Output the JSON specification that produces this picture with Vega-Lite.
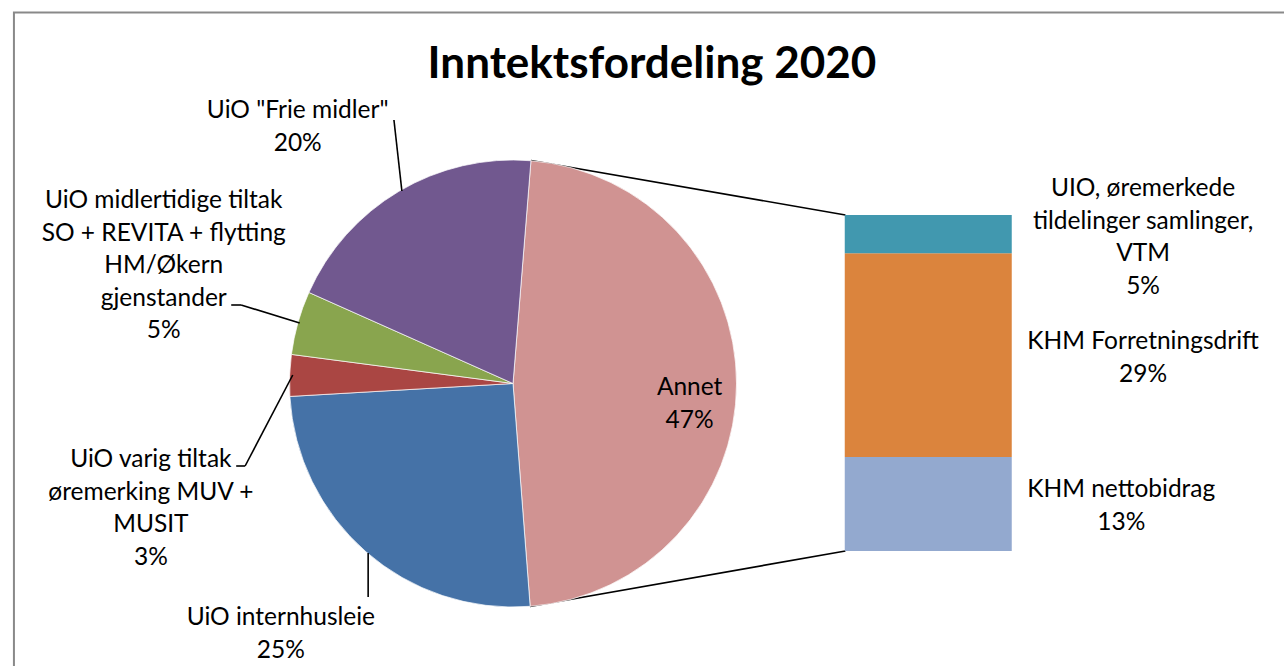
{
  "$schema": "https://vega.github.io/schema/vega-lite/v6.json",
  "width": 1284,
  "height": 666,
  "padding": 0,
  "autosize": {"type": "none"},
  "background": "white",
  "config": {"view": {"stroke": null}, "font": "Lato", "text": {"font": "Lato", "fontSize": 24.5, "color": "#000000", "lineHeight": 32.5, "align": "center", "baseline": "alphabetic"}},
  "datasets": {
    "pie": [
      {"i": 1, "name": "Annet", "value": 47.5, "label": ["Annet", "47%"]},
      {"i": 2, "name": "UiO internhusleie", "value": 25.3, "label": ["UiO internhusleie", "25%"]},
      {"i": 3, "name": "UiO varig tiltak øremerking MUV + MUSIT", "value": 3.0, "label": ["UiO varig tiltak", "øremerking MUV +", "MUSIT", "3%"]},
      {"i": 4, "name": "UiO midlertidige tiltak SO + REVITA + flytting HM/Økern gjenstander", "value": 4.6, "label": ["UiO midlertidige tiltak", "SO + REVITA + flytting", "HM/Økern", "gjenstander", "5%"]},
      {"i": 5, "name": "UiO \"Frie midler\"", "value": 19.6, "label": ["UiO \"Frie midler\"", "20%"]}
    ],
    "bar": [
      {"i": 1, "name": "KHM nettobidrag", "value": 13.3, "label": ["KHM nettobidrag", "13%"]},
      {"i": 2, "name": "KHM Forretningsdrift", "value": 28.8, "label": ["KHM Forretningsdrift", "29%"]},
      {"i": 3, "name": "UIO, øremerkede tildelinger samlinger, VTM", "value": 5.4, "label": ["UIO, øremerkede", "tildelinger samlinger,", "VTM", "5%"]}
    ]
  },
  "resolve": {"scale": {"y": "independent", "color": "independent"}},
  "layer": [
    {
      "data": {"values": [{}]},
      "layer": [
        {
          "mark": {"type": "rect", "fill": null, "stroke": "#898989", "strokeWidth": 2},
          "encoding": {
            "x": {"datum": 9, "type": "quantitative", "scale": {"domain": [0, 1284], "nice": false, "zero": false}, "axis": null},
            "x2": {"datum": 1320},
            "y": {"datum": 12.5, "type": "quantitative", "scale": {"domain": [0, 666], "reverse": true, "nice": false, "zero": false}, "axis": null},
            "y2": {"datum": 720}
          }
        },
        {
          "mark": {"type": "rule", "color": "#000000", "strokeWidth": 1.6},
          "encoding": {
            "x": {"datum": 530, "type": "quantitative", "scale": {"domain": [0, 1284], "nice": false, "zero": false}, "axis": null},
            "x2": {"datum": 847},
            "y": {"datum": 160.5, "type": "quantitative", "scale": {"domain": [0, 666], "reverse": true, "nice": false, "zero": false}, "axis": null},
            "y2": {"datum": 215}
          }
        },
        {
          "mark": {"type": "rule", "color": "#000000", "strokeWidth": 1.6},
          "encoding": {
            "x": {"datum": 529, "type": "quantitative", "scale": {"domain": [0, 1284], "nice": false, "zero": false}, "axis": null},
            "x2": {"datum": 847},
            "y": {"datum": 606.5, "type": "quantitative", "scale": {"domain": [0, 666], "reverse": true, "nice": false, "zero": false}, "axis": null},
            "y2": {"datum": 551}
          }
        },
        {
          "data": {"name": "pie"},
          "mark": {"type": "arc", "outerRadius": 223.5, "stroke": "#ffffff", "strokeWidth": 0.7},
          "encoding": {
            "x": {"datum": 512, "type": "quantitative", "scale": {"domain": [0, 1284], "nice": false, "zero": false}, "axis": null},
            "y": {"datum": 383.5, "type": "quantitative", "scale": {"domain": [0, 666], "reverse": true, "nice": false, "zero": false}, "axis": null},
            "theta": {"field": "value", "type": "quantitative", "stack": true, "scale": {"range": [0.0803, 6.3635]}},
            "order": {"field": "i", "type": "quantitative"},
            "color": {"field": "name", "type": "nominal", "legend": null,
              "scale": {"domain": ["Annet", "UiO internhusleie", "UiO varig tiltak øremerking MUV + MUSIT", "UiO midlertidige tiltak SO + REVITA + flytting HM/Økern gjenstander", "UiO \"Frie midler\""],
                        "range": ["#D09392", "#4572A7", "#AA4643", "#89A54E", "#71588F"]}}
          }
        },
        {
          "mark": {"type": "rule", "color": "#000000", "strokeWidth": 1.6},
          "encoding": {
            "x": {"datum": 392, "type": "quantitative", "scale": {"domain": [0, 1284], "nice": false, "zero": false}, "axis": null},
            "x2": {"datum": 400},
            "y": {"datum": 120, "type": "quantitative", "scale": {"domain": [0, 666], "reverse": true, "nice": false, "zero": false}, "axis": null},
            "y2": {"datum": 191}
          }
        },
        {
          "mark": {"type": "rule", "color": "#000000", "strokeWidth": 1.6},
          "encoding": {
            "x": {"datum": 228, "type": "quantitative", "scale": {"domain": [0, 1284], "nice": false, "zero": false}, "axis": null},
            "x2": {"datum": 238},
            "y": {"datum": 305, "type": "quantitative", "scale": {"domain": [0, 666], "reverse": true, "nice": false, "zero": false}, "axis": null},
            "y2": {"datum": 305}
          }
        },
        {
          "mark": {"type": "rule", "color": "#000000", "strokeWidth": 1.6},
          "encoding": {
            "x": {"datum": 238, "type": "quantitative", "scale": {"domain": [0, 1284], "nice": false, "zero": false}, "axis": null},
            "x2": {"datum": 297},
            "y": {"datum": 305, "type": "quantitative", "scale": {"domain": [0, 666], "reverse": true, "nice": false, "zero": false}, "axis": null},
            "y2": {"datum": 323}
          }
        },
        {
          "mark": {"type": "rule", "color": "#000000", "strokeWidth": 1.6},
          "encoding": {
            "x": {"datum": 233, "type": "quantitative", "scale": {"domain": [0, 1284], "nice": false, "zero": false}, "axis": null},
            "x2": {"datum": 242},
            "y": {"datum": 466, "type": "quantitative", "scale": {"domain": [0, 666], "reverse": true, "nice": false, "zero": false}, "axis": null},
            "y2": {"datum": 466}
          }
        },
        {
          "mark": {"type": "rule", "color": "#000000", "strokeWidth": 1.6},
          "encoding": {
            "x": {"datum": 242, "type": "quantitative", "scale": {"domain": [0, 1284], "nice": false, "zero": false}, "axis": null},
            "x2": {"datum": 290},
            "y": {"datum": 466, "type": "quantitative", "scale": {"domain": [0, 666], "reverse": true, "nice": false, "zero": false}, "axis": null},
            "y2": {"datum": 375}
          }
        },
        {
          "mark": {"type": "rule", "color": "#000000", "strokeWidth": 1.6},
          "encoding": {
            "x": {"datum": 366, "type": "quantitative", "scale": {"domain": [0, 1284], "nice": false, "zero": false}, "axis": null},
            "x2": {"datum": 366},
            "y": {"datum": 553, "type": "quantitative", "scale": {"domain": [0, 666], "reverse": true, "nice": false, "zero": false}, "axis": null},
            "y2": {"datum": 597}
          }
        },
        {
          "mark": {"type": "text", "text": "Inntektsfordeling 2020", "fontSize": 44, "fontWeight": "bold"},
          "encoding": {
            "x": {"datum": 652, "type": "quantitative", "scale": {"domain": [0, 1284], "nice": false, "zero": false}, "axis": null},
            "y": {"datum": 78, "type": "quantitative", "scale": {"domain": [0, 666], "reverse": true, "nice": false, "zero": false}, "axis": null}
          }
        },
        {
          "data": {"name": "pie"},
          "transform": [{"filter": "datum.i == 1"}],
          "mark": {"type": "text"},
          "encoding": {
            "text": {"field": "label"},
            "x": {"datum": 690, "type": "quantitative", "scale": {"domain": [0, 1284], "nice": false, "zero": false}, "axis": null},
            "y": {"datum": 395, "type": "quantitative", "scale": {"domain": [0, 666], "reverse": true, "nice": false, "zero": false}, "axis": null}
          }
        },
        {
          "data": {"name": "pie"},
          "transform": [{"filter": "datum.i == 2"}],
          "mark": {"type": "text"},
          "encoding": {
            "text": {"field": "label"},
            "x": {"datum": 278, "type": "quantitative", "scale": {"domain": [0, 1284], "nice": false, "zero": false}, "axis": null},
            "y": {"datum": 625, "type": "quantitative", "scale": {"domain": [0, 666], "reverse": true, "nice": false, "zero": false}, "axis": null}
          }
        },
        {
          "data": {"name": "pie"},
          "transform": [{"filter": "datum.i == 3"}],
          "mark": {"type": "text"},
          "encoding": {
            "text": {"field": "label"},
            "x": {"datum": 147, "type": "quantitative", "scale": {"domain": [0, 1284], "nice": false, "zero": false}, "axis": null},
            "y": {"datum": 467, "type": "quantitative", "scale": {"domain": [0, 666], "reverse": true, "nice": false, "zero": false}, "axis": null}
          }
        },
        {
          "data": {"name": "pie"},
          "transform": [{"filter": "datum.i == 4"}],
          "mark": {"type": "text"},
          "encoding": {
            "text": {"field": "label"},
            "x": {"datum": 160, "type": "quantitative", "scale": {"domain": [0, 1284], "nice": false, "zero": false}, "axis": null},
            "y": {"datum": 208, "type": "quantitative", "scale": {"domain": [0, 666], "reverse": true, "nice": false, "zero": false}, "axis": null}
          }
        },
        {
          "data": {"name": "pie"},
          "transform": [{"filter": "datum.i == 5"}],
          "mark": {"type": "text"},
          "encoding": {
            "text": {"field": "label"},
            "x": {"datum": 295, "type": "quantitative", "scale": {"domain": [0, 1284], "nice": false, "zero": false}, "axis": null},
            "y": {"datum": 118, "type": "quantitative", "scale": {"domain": [0, 666], "reverse": true, "nice": false, "zero": false}, "axis": null}
          }
        },
        {
          "data": {"name": "bar"},
          "transform": [{"filter": "datum.i == 3"}],
          "mark": {"type": "text"},
          "encoding": {
            "text": {"field": "label"},
            "x": {"datum": 1147, "type": "quantitative", "scale": {"domain": [0, 1284], "nice": false, "zero": false}, "axis": null},
            "y": {"datum": 196, "type": "quantitative", "scale": {"domain": [0, 666], "reverse": true, "nice": false, "zero": false}, "axis": null}
          }
        },
        {
          "data": {"name": "bar"},
          "transform": [{"filter": "datum.i == 2"}],
          "mark": {"type": "text"},
          "encoding": {
            "text": {"field": "label"},
            "x": {"datum": 1147, "type": "quantitative", "scale": {"domain": [0, 1284], "nice": false, "zero": false}, "axis": null},
            "y": {"datum": 349, "type": "quantitative", "scale": {"domain": [0, 666], "reverse": true, "nice": false, "zero": false}, "axis": null}
          }
        },
        {
          "data": {"name": "bar"},
          "transform": [{"filter": "datum.i == 1"}],
          "mark": {"type": "text"},
          "encoding": {
            "text": {"field": "label"},
            "x": {"datum": 1125, "type": "quantitative", "scale": {"domain": [0, 1284], "nice": false, "zero": false}, "axis": null},
            "y": {"datum": 497, "type": "quantitative", "scale": {"domain": [0, 666], "reverse": true, "nice": false, "zero": false}, "axis": null}
          }
        }
      ]
    },
    {
      "data": {"name": "bar"},
      "mark": {"type": "bar", "orient": "vertical", "width": 167},
      "encoding": {
        "x": {"datum": 930.5, "type": "quantitative", "scale": {"domain": [0, 1284], "nice": false, "zero": false}, "axis": null},
        "y": {"field": "value", "type": "quantitative", "stack": "zero", "scale": {"domain": [-16.26, 77.89], "nice": false, "zero": false}, "axis": null},
        "order": {"field": "i", "type": "quantitative"},
        "color": {"field": "name", "type": "nominal", "legend": null,
          "scale": {"domain": ["KHM nettobidrag", "KHM Forretningsdrift", "UIO, øremerkede tildelinger samlinger, VTM"],
                    "range": ["#93A9CF", "#DB843D", "#4198AF"]}}
      }
    }
  ]
}
